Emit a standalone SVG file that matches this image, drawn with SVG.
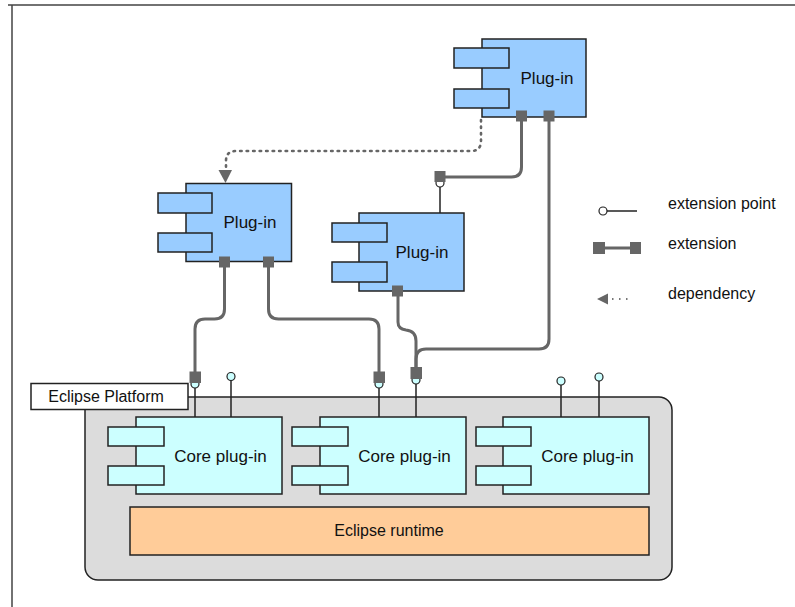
<svg xmlns="http://www.w3.org/2000/svg" width="795" height="607" viewBox="0 0 795 607">
<style>
text{font-family:"Liberation Sans",Arial,sans-serif;font-size:16px;fill:#111;}
.c{text-anchor:middle;}
.big{font-size:17px;}
.plug{fill:#99ccff;stroke:#222;stroke-width:1.5;}
.core{fill:#ccffff;stroke:#222;stroke-width:1.5;}
.ext{fill:none;stroke:#666;stroke-width:3;}
.sq{fill:#666;}
.ep{stroke:#222;stroke-width:1.5;fill:none;}
.epc{fill:#ccffff;stroke:#222;stroke-width:1.2;}
.epw{fill:#fff;stroke:#222;stroke-width:1.2;}
.dep{fill:none;stroke:#666;stroke-width:2.6;stroke-dasharray:1.5 5;stroke-linecap:round;}
</style>
<rect x="0" y="0" width="795" height="607" fill="#fff"/>
<path d="M8,5 H795 M12,5 V607" fill="none" stroke="#444" stroke-width="1.5"/>

<g id="eclipse-platform">
<rect x="85" y="397" width="587" height="183" rx="13" fill="#dcdcdc" stroke="#222" stroke-width="1.5"/>
<rect x="31" y="383.5" width="157" height="26" fill="#fff" stroke="#222" stroke-width="1.5"/>
<text x="106" y="402" class="c">Eclipse Platform</text>
</g>

<g id="runtime">
<rect x="130" y="507" width="519" height="48" fill="#ffcc99" stroke="#222" stroke-width="1.5"/>
<text x="389" y="536" class="c">Eclipse runtime</text>
</g>

<g id="core1">
<rect class="core" x="136" y="417" width="146" height="77"/>
<rect class="core" x="108" y="427" width="56" height="19"/>
<rect class="core" x="108" y="466" width="56" height="19"/>
<text x="220.5" y="462" class="c big">Core plug-in</text>
</g>
<g id="core2">
<rect class="core" x="320" y="417" width="146" height="77"/>
<rect class="core" x="292" y="427" width="56" height="19"/>
<rect class="core" x="292" y="466" width="56" height="19"/>
<text x="404.5" y="462" class="c big">Core plug-in</text>
</g>
<g id="core3">
<rect class="core" x="503" y="417" width="146" height="77"/>
<rect class="core" x="476" y="427" width="55" height="19"/>
<rect class="core" x="476" y="466" width="55" height="19"/>
<text x="587.5" y="462" class="c big">Core plug-in</text>
</g>

<g id="plugin1">
<rect class="plug" x="482" y="39" width="104" height="78"/>
<rect class="plug" x="454" y="48" width="55" height="20"/>
<rect class="plug" x="454" y="89" width="55" height="19"/>
<text x="547" y="84" class="c big">Plug-in</text>
</g>
<g id="plugin2">
<rect class="plug" x="186" y="183.5" width="105.5" height="78"/>
<rect class="plug" x="158" y="193" width="54" height="20"/>
<rect class="plug" x="158" y="233" width="54" height="19"/>
<text x="250" y="228" class="c big">Plug-in</text>
</g>
<g id="plugin3">
<rect class="plug" x="359" y="213" width="105" height="78"/>
<rect class="plug" x="332" y="223" width="55" height="19"/>
<rect class="plug" x="332" y="262" width="55" height="20"/>
<text x="422" y="258" class="c big">Plug-in</text>
</g>

<g id="connectors">
<path class="dep" d="M481,120 V141 Q481,151 471,151 H236 Q226,151 226,161 V168"/>
<polygon points="218.5,170 232,170 225.5,183" fill="#666"/>

<line class="ep" x1="195" y1="386" x2="195" y2="417"/>
<line class="ep" x1="231" y1="380" x2="231" y2="417"/>
<line class="ep" x1="379" y1="386" x2="379" y2="417"/>
<line class="ep" x1="416" y1="382" x2="416" y2="417"/>
<line class="ep" x1="561" y1="385" x2="561" y2="417"/>
<line class="ep" x1="599" y1="381" x2="599" y2="417"/>
<line class="ep" x1="440" y1="186" x2="440" y2="213"/>

<circle class="epc" cx="231" cy="376.5" r="4"/>
<circle class="epc" cx="561" cy="381" r="4"/>
<circle class="epc" cx="599" cy="377" r="4"/>
<circle class="epc" cx="195" cy="384" r="4"/>
<circle class="epc" cx="379" cy="384" r="4"/>
<circle class="epc" cx="416" cy="380" r="4"/>
<circle class="epw" cx="440" cy="183" r="4"/>

<path class="ext" d="M224.5,267 V309 Q224.5,319 214.5,319 H205 Q195,319 195,329 V372"/>
<path class="ext" d="M268.5,267 V309 Q268.5,319 278.5,319 H369 Q379,319 379,329 V372"/>
<path class="ext" d="M398,296 V322 Q398,329 406,330 Q416,331 416,341 V368"/>
<path class="ext" d="M549,121 V339 Q549,349 539,349 H426 Q416,349 416,359 V368"/>
<path class="ext" d="M521.5,121 V167 Q521.5,177 511.5,177 H445"/>

<rect class="sq" x="219" y="256.5" width="11" height="11"/>
<rect class="sq" x="263" y="256.5" width="11" height="11"/>
<rect class="sq" x="516" y="110.5" width="11" height="11"/>
<rect class="sq" x="543.5" y="110.5" width="11" height="11"/>
<rect class="sq" x="392" y="285.5" width="11" height="11"/>
<rect class="sq" x="434.5" y="171" width="11" height="11"/>
<rect class="sq" x="189.5" y="371.5" width="11.5" height="11.5"/>
<rect class="sq" x="373.5" y="371.5" width="11.5" height="11.5"/>
<rect class="sq" x="410.5" y="367" width="11.5" height="12"/>
</g>

<g id="legend">
<line x1="607" y1="211" x2="637" y2="211" stroke="#222" stroke-width="1.5"/>
<circle cx="603" cy="211" r="4" fill="#fff" stroke="#222" stroke-width="1.2"/>
<text x="668" y="209">extension point</text>
<line x1="599" y1="248" x2="636" y2="248" stroke="#666" stroke-width="3"/>
<rect class="sq" x="593" y="242" width="12" height="12"/>
<rect class="sq" x="630" y="242" width="11" height="12"/>
<text x="668" y="249">extension</text>
<polygon points="597,299 608,293.5 608,304.5" fill="#666"/>
<path d="M612,299 H613.5 M619,299 H620.5 M626,299 H627.5" stroke="#777" stroke-width="2.2"/>
<text x="668" y="299">dependency</text>
</g>
</svg>
